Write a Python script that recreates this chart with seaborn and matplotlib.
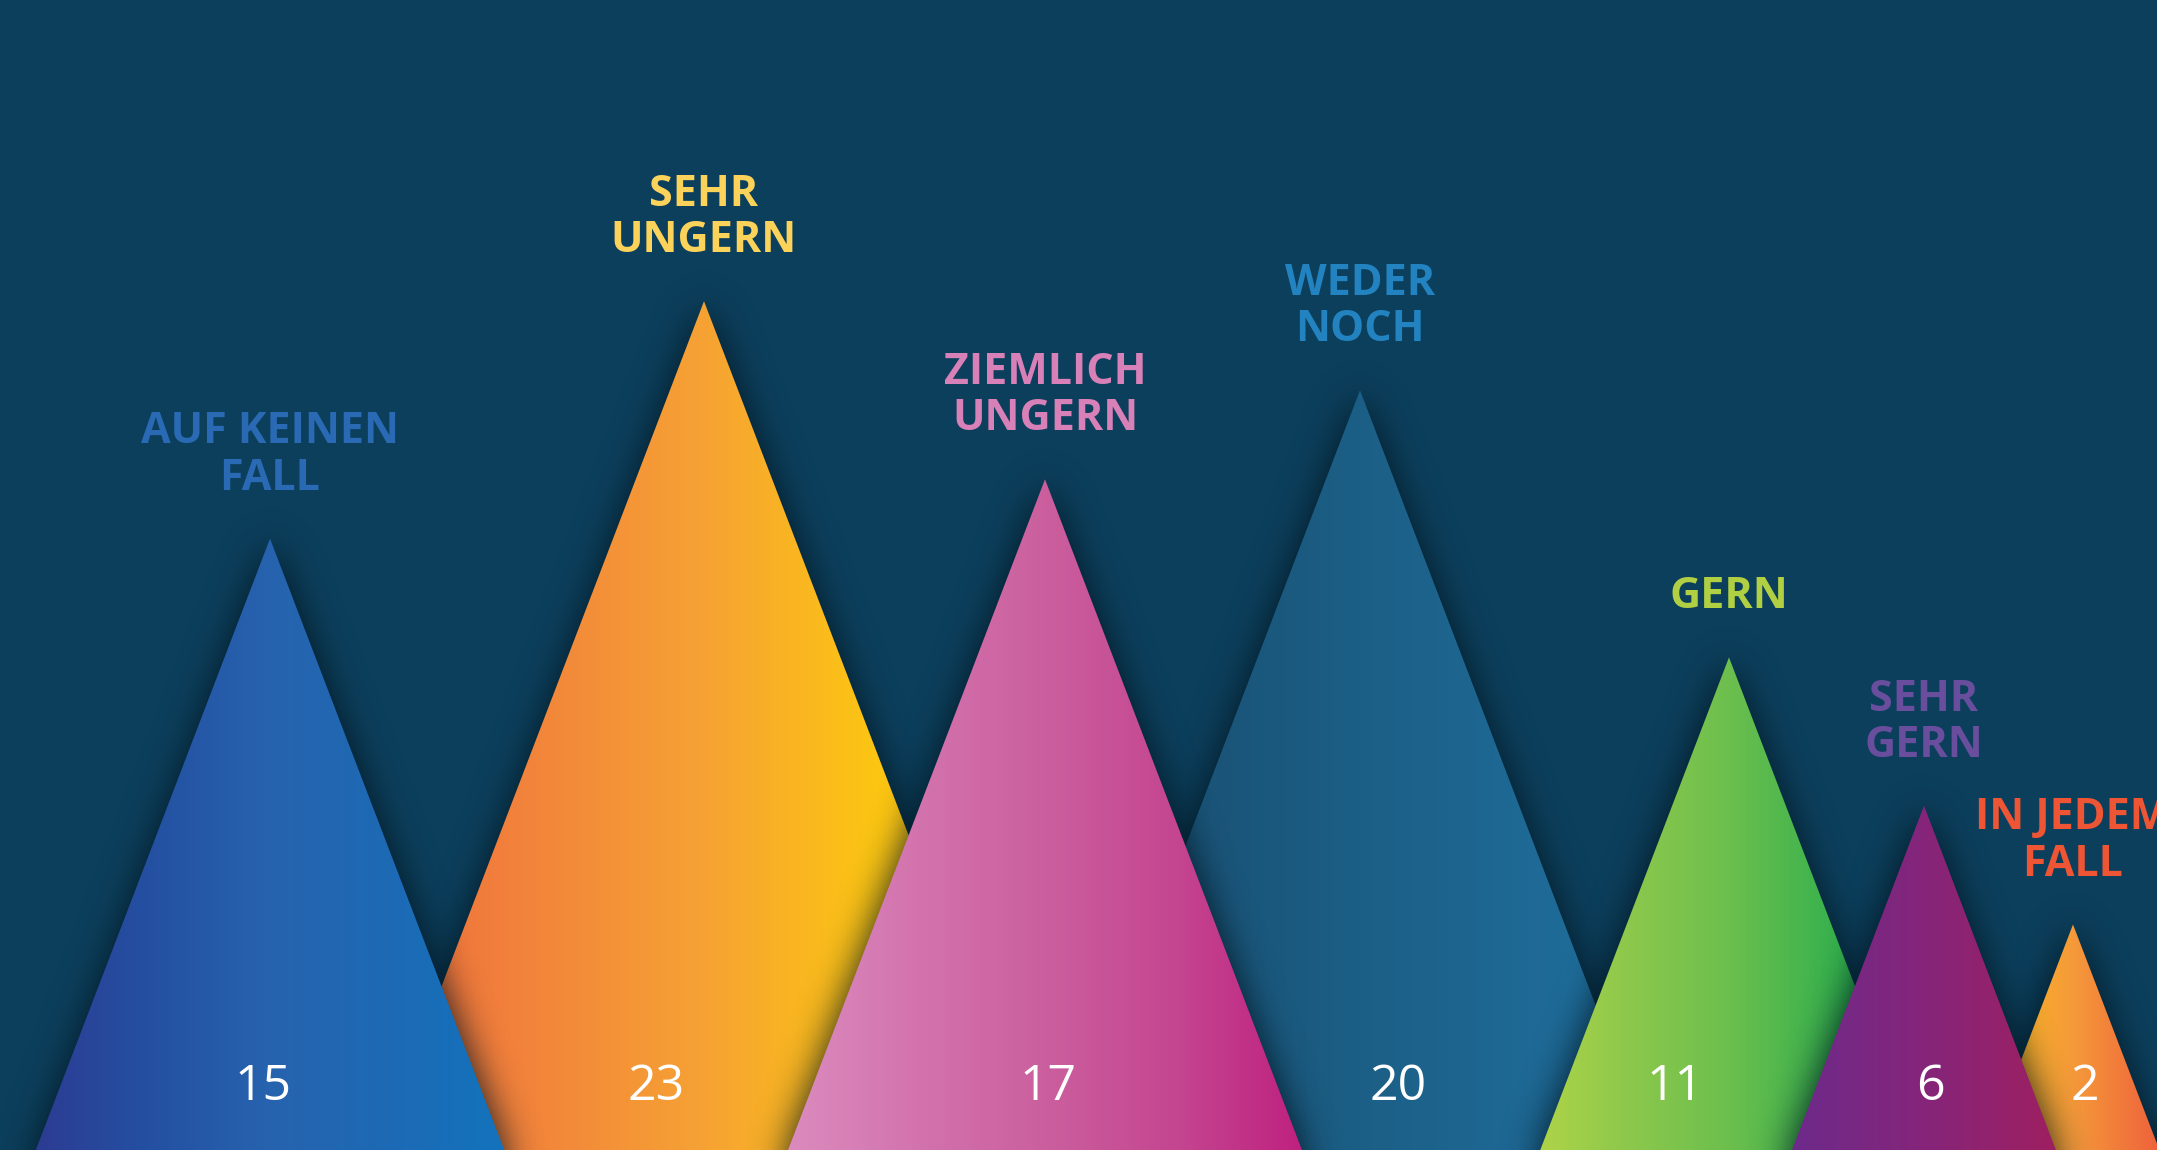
import numpy as np
import matplotlib
matplotlib.use("Agg")
import matplotlib.pyplot as plt
from matplotlib.patches import Polygon
import seaborn as sns

sns.set_theme(style="white")
plt.rcParams['font.family'] = ['Open Sans', 'DejaVu Sans']

# ── data ──────────────────────────────────────────────────────────
categories = ["AUF KEINEN\nFALL", "SEHR\nUNGERN", "ZIEMLICH\nUNGERN", "WEDER\nNOCH",
              "GERN", "SEHR\nGERN", "IN JEDEM\nFALL"]
values = [15, 23, 17, 20, 11, 6, 2]

label_colors = ["#2A6AB4", "#FCD35A", "#D880B8", "#2283C0", "#B0CF43", "#6A4E9E", "#EE5534"]
gradients = [
    ["#2D3A91", "#2450A2", "#2763AE", "#1D6AB5", "#1274BD"],
    ["#EE6A3C", "#F2853B", "#F6A234", "#FCC513", "#FCC70E"],
    ["#DC8DC0", "#D374AE", "#CB5F9E", "#C44590", "#BE1E7E"],
    ["#184A6B", "#1A5478", "#1C5F86", "#1E6894", "#1F71A0"],
    ["#B2D547", "#8CC84C", "#6CBF4E", "#3AB24D", "#03A84C"],
    ["#6C2A8D", "#782883", "#85257A", "#93226C", "#A01F5E"],
    ["#FCC30F", "#F8AE2A", "#F59A3A", "#F17A3B", "#EE5A3B"],
]

# ── layout (x in output pixels) ──────────────────────────────────
W, H = 2157, 1150
BG = "#0C3F5C"
x_centers = [270, 704, 1045, 1360, 1729, 1924, 2073]
number_x = [263, 656, 1048, 1398, 1675, 1930, 2085]
draw_order = [1, 3, 6, 0, 2, 4, 5]     # back to front
y_lo, y_hi = -5.6, 33.15
slope = 11.37                           # half-width (px) per value unit


def blur(a, sigma):
    r = int(3 * sigma)
    k = np.exp(-0.5 * (np.arange(-r, r + 1) / sigma) ** 2)
    k /= k.sum()
    a = np.pad(a, r, mode='edge')
    a = np.apply_along_axis(lambda m: np.convolve(m, k, mode='same'), 0, a)
    a = np.apply_along_axis(lambda m: np.convolve(m, k, mode='same'), 1, a)
    return a[r:-r, r:-r]


fig = plt.figure(figsize=(W / 100, H / 100), dpi=100, facecolor=BG)
ax = fig.add_axes([0, 0, 1, 1])
ax.set_facecolor(BG)

# raster grid for the soft drop shadows
gx = np.linspace(0, W, W // 2)
gy = np.linspace(y_lo, y_hi, H // 2)
GX, GY = np.meshgrid(gx, gy)

z = 2
for i in draw_order:
    xc, v = x_centers[i], values[i]
    hw_grid = slope * (v - GY)
    mask = ((GY <= v) & (np.abs(GX - xc) <= hw_grid)).astype(float)
    sh = blur(mask, 9) * 0.9
    rgba = np.zeros(mask.shape + (4,))
    rgba[..., :3] = [0.01, 0.08, 0.12]
    rgba[..., 3] = sh
    ax.imshow(rgba, extent=[0, W, y_lo, y_hi], origin='lower', aspect='auto',
              interpolation='bilinear', zorder=z)

    yb = y_lo - 1
    hw = slope * (v - yb)
    cmap = sns.blend_palette(gradients[i], n_colors=256, as_cmap=True)
    grad = np.linspace(0, 1, 256).reshape(1, -1)
    im = ax.imshow(grad, cmap=cmap, extent=[xc - hw, xc + hw, yb, v],
                   aspect='auto', interpolation='bilinear', zorder=z + 1)
    tri = Polygon([[xc - hw, yb], [xc, v], [xc + hw, yb]], closed=True,
                  transform=ax.transData, fc='none', ec='none')
    im.set_clip_path(tri)
    z += 2

for i, (cat, v) in enumerate(zip(categories, values)):
    ax.annotate(cat, xy=(x_centers[i], v), xytext=(0, 28), textcoords='offset points',
                ha='center', va='bottom', fontsize=31, fontweight='bold',
                color=label_colors[i], linespacing=1.1, zorder=30,
                annotation_clip=False)
    ax.text(number_x[i], 0.055, str(v), transform=ax.get_xaxis_transform(),
            ha='center', va='center', fontsize=36, color='white', zorder=30)

ax.set_xlim(0, W)
ax.set_ylim(y_lo, y_hi)
ax.set_axis_off()

fig.savefig("out.png", dpi=100, facecolor=BG)
